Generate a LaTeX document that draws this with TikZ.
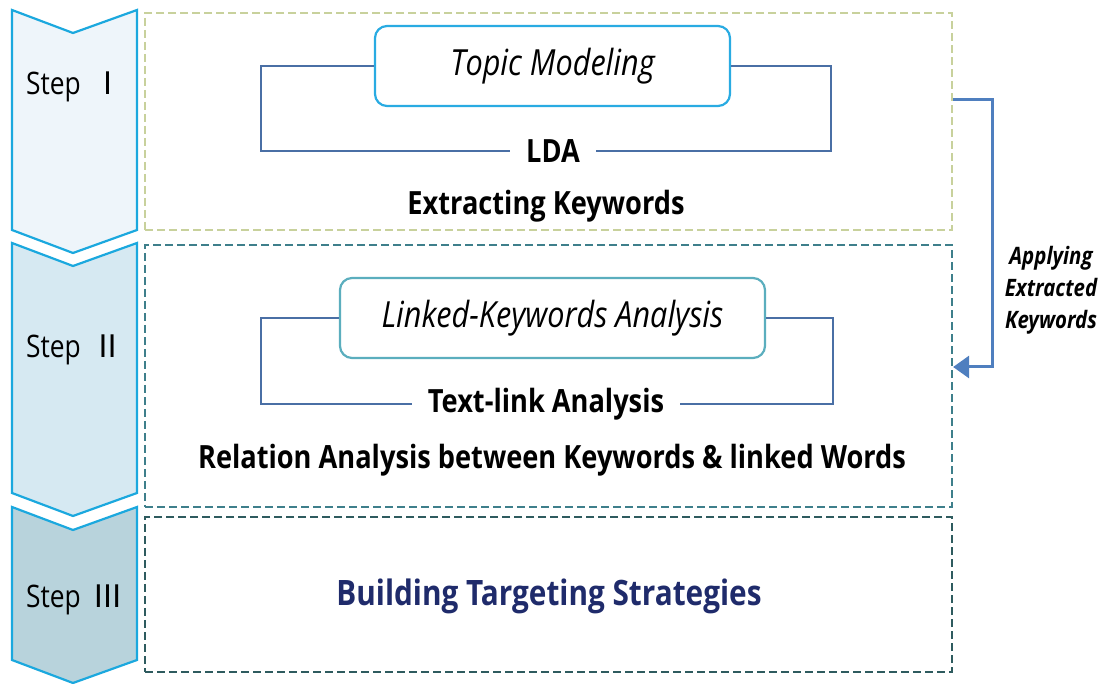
\documentclass[tikz,border=0pt]{standalone}
\usepackage{fontspec}
\setmainfont{Open Sans}[FakeStretch=0.85]
\newfontfamily\cjk{Noto Sans CJK KR}
\usetikzlibrary{arrows.meta}

\definecolor{chevronline}{HTML}{1BA8DE}
\definecolor{stepA}{HTML}{EEF5FA}
\definecolor{stepB}{HTML}{D6E9F2}
\definecolor{stepC}{HTML}{B8D3DC}
\definecolor{dashA}{HTML}{C8D19C}
\definecolor{dashB}{HTML}{3E7F8B}
\definecolor{dashC}{HTML}{2E5B5F}
\definecolor{topicline}{HTML}{29ABE2}
\definecolor{linkline}{HTML}{5BAEBE}
\definecolor{bracketline}{HTML}{4A6FA5}
\definecolor{applyblue}{HTML}{4F7FBF}
\definecolor{navy}{HTML}{1F2B6B}

\tikzset{
    chevron/.style={draw=chevronline,line width=2.2pt,line join=miter},
    steplabel/.style={font=\fontsize{31}{34}\selectfont,inner sep=0pt},
    dashbox/.style={dash pattern=on 8pt off 4pt,line width=2.2pt,inner sep=0pt},
    methodbox/.style={draw,line width=2.2pt,rounded corners=12pt,fill=white,minimum height=80pt,font=\fontsize{36}{40}\selectfont\itshape},
    bracket/.style={draw=bracketline,line width=2.4pt},
    boldtext/.style={font=\fontsize{32}{36}\selectfont\bfseries,inner sep=0pt},
    gaptext/.style={boldtext,inner xsep=16pt,inner ysep=0pt}
}

\begin{document}
\begin{tikzpicture}[x=1pt,y=-1pt]
    \useasboundingbox (0,0) rectangle (1106,684);

    % step chevrons
    \foreach \ya/\yb/\shade/\ly/\num [count=\k] in {10/230/stepA/87/Ⅰ,243/493/stepB/350/Ⅱ,507/660/stepC/600/Ⅲ} {
            \draw [chevron,fill=\shade] (12,\ya) -- (73,\ya+23) -- (137,\ya) -- (137,\yb) -- (73,\yb+23) -- (12,\yb) -- cycle;
            \node [steplabel] (step\k) at (75,\ly) {Step\hspace{12pt}{\cjk\num}};
        }

    % dashed frames
    \node [dashbox,draw=dashA,line width=1.8pt,minimum width=807pt,minimum height=217pt] (frameA) at (548.5,121.5) {};
    \node [dashbox,draw=dashB,minimum width=807pt,minimum height=262pt] (frameB) at (548.5,376) {};
    \node [dashbox,draw=dashC,minimum width=807pt,minimum height=155pt] (frameC) at (548.5,594.5) {};

    % step I
    \node [methodbox,draw=topicline,minimum width=355pt] (topic) at (552.5,66) {Topic Modeling};
    \node [gaptext] (lda) at (553,151) {LDA};
    \draw [bracket] (topic.west) -- +(-113,0) |- (lda.west);
    \draw [bracket] (topic.east) -- +(100,0) |- (lda.east);
    \node [boldtext] (extract) at (546,206) {Extracting Keywords};

    % step II
    \node [methodbox,draw=linkline,minimum width=425pt] (linked) at (552.5,318) {Linked-Keywords Analysis};
    \node [gaptext] (textlink) at (546,404) {Text-link Analysis};
    \draw [bracket] (linked.west) -- +(-78,0) |- (textlink.west);
    \draw [bracket] (linked.east) -- +(67,0) |- (textlink.east);
    \node [boldtext] (relation) at (552,460) {Relation Analysis between Keywords \& linked Words};

    % step III
    \node [boldtext,text=navy,font=\fontsize{35}{38}\selectfont\bfseries] (building) at (549,596) {Building Targeting Strategies};

    % feedback arrow
    \draw [applyblue,line width=3pt,-{Triangle[length=16pt,width=22pt]}] ([yshift=21.5pt]frameA.east) -- ++(40,0) |- ([yshift=9pt]frameB.east);
    \node [align=center,font=\fontsize{24}{32}\selectfont\bfseries\itshape,inner sep=0pt] (apply) at (1051,290) {Applying\\Extracted\\Keywords};
\end{tikzpicture}
\end{document}
